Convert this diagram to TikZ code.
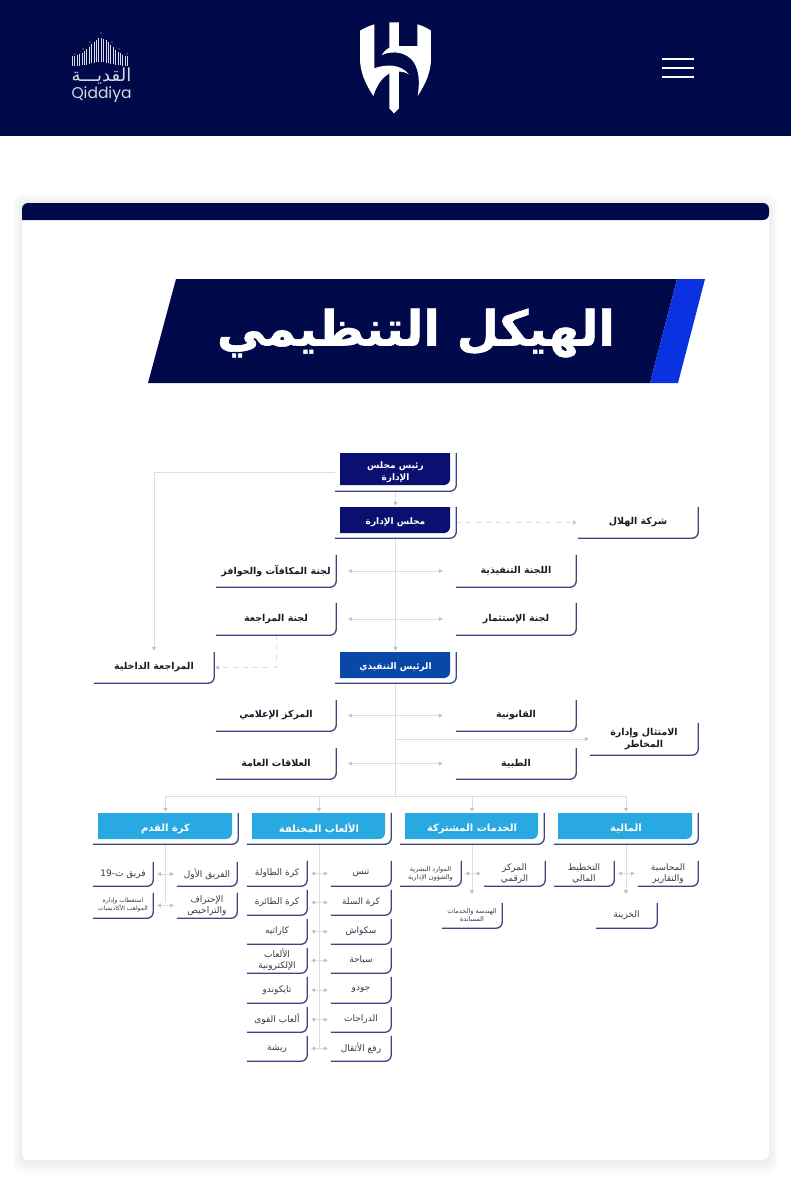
\documentclass[tikz,border=0pt]{standalone}
\usepackage{fontspec}
\usetikzlibrary{arrows.meta,backgrounds,calc}
\TeXXeTstate=1
\newfontfamily\arb[Script=Arabic]{DejaVu Sans}
\newfontfamily\arbheavy[Script=Arabic,FakeBold=1.2]{DejaVu Sans Bold}
\newfontfamily\popp{Poppins}
\definecolor{navyband}{RGB}{0,9,74}
\definecolor{boxnavy}{RGB}{10,16,112}
\definecolor{boxblue}{RGB}{8,72,166}
\definecolor{boxsky}{RGB}{41,169,225}
\definecolor{titleblue}{RGB}{10,50,224}
\definecolor{edgeink}{RGB}{62,68,132}
\definecolor{connline}{RGB}{218,221,227}
\definecolor{connhead}{RGB}{190,194,204}
\definecolor{inkdark}{RGB}{26,26,40}
\definecolor{inksub}{RGB}{58,58,70}
\newcommand\rl[1]{\beginR #1\endR}
\newcommand\twol[2]{\begin{tabular}{@{}c@{}}#1\\#2\end{tabular}}
\tikzset{
  edgeline/.style={draw=edgeink,line width=1.3pt,rounded corners=6pt},
  mainbox/.style={font=\arb\bfseries\fontsize{9.5}{12.5}\selectfont,text=inkdark},
  subbox/.style={font=\arb\fontsize{9}{11.5}\selectfont,text=inksub},
  tinybox/.style={font=\arb\fontsize{6.5}{8}\selectfont,text=inksub},
  microbox/.style={font=\arb\fontsize{6}{7}\selectfont,text=inksub},
  topbox/.style={font=\arb\bfseries\fontsize{9}{12}\selectfont,text=white},
  catbox/.style={font=\arb\bfseries\fontsize{10}{12}\selectfont,text=white},
  conn/.style={draw=connline,line width=0.9pt},
  arr/.style={conn,-{Triangle[length=4pt,width=4pt,color=connhead]},shorten >=1pt},
  biarr/.style={conn,{Triangle[length=4pt,width=4pt,color=connhead]}-{Triangle[length=4pt,width=4pt,color=connhead]}},
  dash conn/.style={arr,dash pattern=on 5pt off 5pt},
}
% style, name, x1, y1, x2, y2, text
\newcommand\obox[7]{%
  \pgfmathsetmacro\bw{#5-#3}\pgfmathsetmacro\bh{#6-#4}%
  \pgfmathsetmacro\cx{(#3+#5)/2}\pgfmathsetmacro\cy{(#4+#6)/2}%
  \node[#1,inner sep=0pt,minimum width=\bw pt,minimum height=\bh pt] (#2) at (\cx,\cy) {\raisebox{2pt}{#7}};
  \draw[edgeline] (#2.north east) |- (#2.south west);
}
% colour, x1,y1,x2,y2 : panel with one rounded corner
\newcommand\panel[5]{%
  \fill[#1] (#2,#3) -- (#4,#3) [rounded corners=6pt] -- (#4,#5) [sharp corners] -- (#2,#5) -- cycle;
}
\begin{document}
\begin{tikzpicture}[x=1pt,y=-1pt]
\useasboundingbox (0,0) rectangle (791,1200);

%% header contents
\begin{scope}[shift={(345,15)},x=0.3333pt,y=-0.3333pt]
  \fill[white] (45,47) .. controls (60,38) and (75,32) .. (88,28) -- (88,160)
    .. controls (120,148) and (165,145) .. (192,178)
    .. controls (160,160) and (110,165) .. (85,243)
    .. controls (60,205) and (45,170) .. (45,130) -- cycle;
  \fill[white] (133,165) -- (162,165) -- (162,280) -- (147,295) -- (133,280) -- cycle;
  \fill[white] (133,22) -- (162,22) -- (162,93) -- (217,93) -- (217,28)
    .. controls (232,32) and (245,38) .. (258,47) -- (258,130)
    .. controls (258,170) and (243,205) .. (218,243)
    .. controls (225,200) and (222,165) .. (205,140)
    .. controls (185,112) and (145,105) .. (110,120)
    .. controls (118,108) and (125,102) .. (133,98) -- cycle;
\end{scope}
\foreach \yy in {59,68,77}{\draw[white,line width=2.6pt] (662,\yy) -- (694,\yy);}
\foreach \d in {-28.5,-26.1,...,29}{
  \pgfmathsetmacro\tp{57-19*exp(-(\d/15)*(\d/15))}
  \pgfmathsetmacro\bt{66-4*exp(-(\d/14)*(\d/14))}
  \draw[white,line width=1.1pt,opacity=.85] (101+\d,\tp) -- (101+\d,\bt);
}
\foreach \px/\py in {101/33,90/42,112/42,83/49,119/49,75/54,127/54}{\fill[white,opacity=.8] (\px,\py) circle (0.7pt);}
\node[font=\arb\fontsize{18}{18}\selectfont,text=white!85!navyband,inner sep=0pt] (qar) at (101.5,76) {\rl{القديـــة}};
\node[font=\popp\fontsize{15.5}{16}\selectfont,text=white!85!navyband,inner sep=0pt] (qen) at (101.5,95) {Qiddiya};

%% title
\fill[navyband] (176,279) -- (677,279) -- (650,383) -- (148,383) -- cycle;
\fill[titleblue] (677,279) -- (705,279) -- (678,383) -- (650,383) -- cycle;
\node[font=\arbheavy\fontsize{48.5}{50}\selectfont,text=white,inner sep=0pt] (title) at (416,333) {\rl{الهيكل التنظيمي}};

%% coloured panels
\panel{boxnavy}{340}{453}{450}{485}
\panel{boxnavy}{340}{507}{450}{533}
\panel{boxblue}{340}{652}{450}{678}
\panel{boxsky}{98}{813}{232}{839}
\panel{boxsky}{252}{813}{385}{839}
\panel{boxsky}{405}{813}{538}{839}
\panel{boxsky}{558}{813}{692}{839}

%% upper tree
\obox{topbox}{chair}{335}{453}{456}{491}{\twol{\rl{رئيس مجلس}}{\rl{الإدارة}}}
\obox{topbox}{board}{335}{507}{456}{538}{\rl{مجلس الإدارة}}
\obox{topbox}{exec}{335}{652}{456}{683}{\rl{الرئيس التنفيذي}}
\obox{mainbox}{hilal}{578}{507}{698}{538}{\rl{شركة الهلال}}
\obox{mainbox}{rem}{216}{555}{336}{587}{\rl{لجنة المكافآت والحوافز}}
\obox{mainbox}{exco}{456}{555}{576}{587}{\rl{اللجنة التنفيذية}}
\obox{mainbox}{acomm}{216}{603}{336}{635}{\rl{لجنة المراجعة}}
\obox{mainbox}{invest}{456}{603}{576}{635}{\rl{لجنة الإستثمار}}
\obox{mainbox}{audit}{94}{652}{214}{683}{\rl{المراجعة الداخلية}}
\obox{mainbox}{media}{216}{700}{336}{731}{\rl{المركز الإعلامي}}
\obox{mainbox}{legal}{456}{700}{576}{731}{\rl{القانونية}}
\obox{mainbox}{comply}{590}{723}{698}{755}{\twol{\rl{الامتثال وإدارة}}{\rl{المخاطر}}}
\obox{mainbox}{pr}{216}{748}{336}{779}{\rl{العلاقات العامة}}
\obox{mainbox}{medic}{456}{748}{576}{779}{\rl{الطبية}}

%% categories
\obox{catbox}{kora}{93}{813}{238}{844}{\rl{كرة القدم}}
\obox{catbox}{games}{247}{813}{391}{844}{\rl{الألعاب المختلفة}}
\obox{catbox}{shared}{400}{813}{544}{844}{\rl{الخدمات المشتركة}}
\obox{catbox}{finance}{554}{813}{698}{844}{\rl{المالية}}

%% football
\obox{subbox}{kfirst}{177}{862}{237}{886}{\rl{الفريق الأول}}
\obox{subbox}{kyouth}{93}{862}{153}{886}{\rl{فريق ت-\beginL 19\endL}}
\obox{subbox}{kpro}{177}{893}{237}{918}{\twol{\rl{الإحتراف}}{\rl{والتراخيص}}}
\obox{microbox}{kacad}{93}{893}{153}{918}{\twol{\rl{استقطاب وإدارة}}{\rl{المواهب الأكاديميات}}}

%% other sports
\obox{subbox}{tennis}{331}{861}{391}{886}{\rl{تنس}}
\obox{subbox}{ttennis}{247}{861}{307}{886}{\rl{كرة الطاولة}}
\obox{subbox}{basket}{331}{890}{391}{915}{\rl{كرة السلة}}
\obox{subbox}{volley}{247}{890}{307}{915}{\rl{كرة الطائرة}}
\obox{subbox}{squash}{331}{919}{391}{944}{\rl{سكواش}}
\obox{subbox}{karate}{247}{919}{307}{944}{\rl{كاراتيه}}
\obox{subbox}{swim}{331}{948}{391}{973}{\rl{سباحة}}
\obox{subbox}{esports}{247}{948}{307}{973}{\twol{\rl{الألعاب}}{\rl{الإلكترونية}}}
\obox{subbox}{judo}{331}{977}{391}{1003}{\rl{جودو}}
\obox{subbox}{taekwondo}{247}{977}{307}{1003}{\rl{تايكوندو}}
\obox{subbox}{cycling}{331}{1007}{391}{1032}{\rl{الدراجات}}
\obox{subbox}{athletics}{247}{1007}{307}{1032}{\rl{ألعاب القوى}}
\obox{subbox}{weights}{331}{1036}{391}{1061}{\rl{رفع الأثقال}}
\obox{subbox}{badminton}{247}{1036}{307}{1061}{\rl{ريشة}}

%% shared services
\obox{subbox}{digital}{484}{861}{545}{886}{\twol{\rl{المركز}}{\rl{الرقمي}}}
\obox{tinybox}{hr}{400}{861}{461}{886}{\twol{\rl{الموارد البشرية}}{\rl{والشؤون الإدارية}}}
\obox{tinybox}{eng}{442}{903}{502}{928}{\twol{\rl{الهندسة والخدمات}}{\rl{المساندة}}}

%% finance
\obox{subbox}{acct}{638}{861}{698}{886}{\twol{\rl{المحاسبة}}{\rl{والتقارير}}}
\obox{subbox}{plan}{554}{861}{614}{886}{\twol{\rl{التخطيط}}{\rl{المالي}}}
\obox{subbox}{treasury}{596}{903}{657}{928}{\rl{الخزينة}}

\coordinate (busmid) at (exec.south |- 0,796);
\coordinate (gamesend) at (games.south |- 0,1048);
\coordinate (koraend) at (kora.south |- 0,902);

\begin{scope}[on background layer]
  \fill[white] (0,0) rectangle (791,1200);
  \fill[navyband] (0,0) rectangle (791,136);
  \foreach \i in {1,...,9}{
    \fill[black,opacity=.006,rounded corners=8pt] (22-\i,203-\i) rectangle (769+\i,1160+1.6*\i);
  }
  \fill[white,rounded corners=6pt] (22,203) rectangle (769,1160);
  \fill[navyband,rounded corners=6pt] (22,220) -- (22,203) -- (769,203) -- (769,220) [sharp corners] -- cycle;

  % executive tree
  \draw[arr] (chair.south) -- (board.north);
  \draw[arr] (board.south) -- (exec.north);
  \draw[arr] (chair.west) -| (audit.north);
  \draw[dash conn] (board.east) -- (hilal.west);
  \draw[dash conn] (acomm.south) |- (audit.east);
  \draw[biarr,shorten <=12pt,shorten >=13pt] (rem.east) -- (exco.west);
  \draw[biarr,shorten <=12pt,shorten >=13pt] (acomm.east) -- (invest.west);
  \draw[biarr,shorten <=12pt,shorten >=13pt] (media.east) -- (legal.west);
  \draw[biarr,shorten <=12pt,shorten >=13pt] (pr.east) -- (medic.west);
  \draw[conn] (exec.south) -- (busmid);
  \draw[arr] (exec.south |- comply.west) -- (comply.west);
  % bus to categories
  \draw[arr] (busmid) -| (kora.north);
  \draw[arr] (busmid) -| (games.north);
  \draw[arr] (busmid) -| (shared.north);
  \draw[arr] (busmid) -| (finance.north);
  % category children
  \draw[conn] (kora.south) -- (koraend);
  \draw[conn] (games.south) -- (gamesend);
  \draw[arr] (shared.south) -- ++(0,51);
  \draw[arr] (finance.south) -- ++(0,51);
  \draw[biarr,shorten <=4pt,shorten >=3pt] (kyouth.east) -- (kfirst.west);
  \draw[biarr,shorten <=4pt,shorten >=3pt] (kacad.east) -- (kpro.west);
  \draw[biarr,shorten <=4pt,shorten >=3pt] (ttennis.east) -- (tennis.west);
  \draw[biarr,shorten <=4pt,shorten >=3pt] (volley.east) -- (basket.west);
  \draw[biarr,shorten <=4pt,shorten >=3pt] (karate.east) -- (squash.west);
  \draw[biarr,shorten <=4pt,shorten >=3pt] (esports.east) -- (swim.west);
  \draw[biarr,shorten <=4pt,shorten >=3pt] (taekwondo.east) -- (judo.west);
  \draw[biarr,shorten <=4pt,shorten >=3pt] (athletics.east) -- (cycling.west);
  \draw[biarr,shorten <=4pt,shorten >=3pt] (badminton.east) -- (weights.west);
  \draw[biarr,shorten <=4pt,shorten >=3pt] (hr.east) -- (digital.west);
  \draw[biarr,shorten <=4pt,shorten >=3pt] (plan.east) -- (acct.west);
\end{scope}
\end{tikzpicture}
\end{document}
